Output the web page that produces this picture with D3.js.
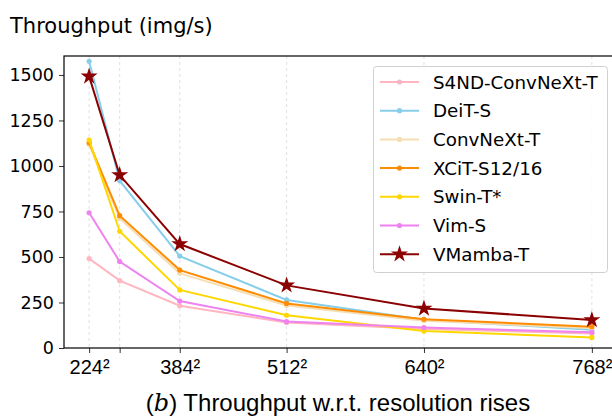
<!DOCTYPE html>
<html>
<head>
<meta charset="utf-8">
<script src="https://cdn.jsdelivr.net/npm/d3@7"></script>
<style>
body { margin: 0; background: #fff; }
svg { display: block; }
</style>
</head>
<body>
<svg width="612" height="418"></svg>
<script>
// resolutions (side length), x is placed by pixel count (res^2)
var resolutions = [224, 288, 384, 512, 640, 768];
var tickLabels = ["224²", "", "384²", "512²", "640²", "768²"];
var yTicks = [0, 250, 500, 750, 1000, 1250, 1500];

var models = ["S4ND-ConvNeXt-T", "DeiT-S", "ConvNeXt-T", "XCiT-S12/16", "Swin-T*", "Vim-S", "VMamba-T"];
var colors = ["#ffb6c1", "#87ceeb", "#f5deb3", "#ff8c00", "#ffd700", "#ee82ee", "#8b0000"];

var s4nd     = [491, 370, 232, 140, 104, 80];
var deit     = [1575, 919, 505, 264, 155, 100];
var convnext = [1118, 712, 410, 234, 150, 108];
var xcit     = [1128, 727, 428, 245, 158, 117];
var swin     = [1142, 641, 319, 180, 93, 58];
var vim      = [743, 475, 258, 145, 112, 86];
var vmamba   = [1492, 950, 571, 344, 217, 154];

var series = [s4nd, deit, convnext, xcit, swin, vim, vmamba];

var svg = d3.select("svg"),
	pLeft = 64, pTop = 56, pRight = 617, pBottom = 348;

var area = resolutions.map(d => d * d);
var pad = (d3.max(area) - d3.min(area)) * 0.05;

var xScale = d3.scaleLinear()
	.domain([d3.min(area) - pad, d3.max(area) + pad])
	.range([pLeft, pRight]);
var yScale = d3.scaleLinear().domain([0, 1604]).range([pBottom, pTop]);

// vertical dashed grid
svg.append("g").selectAll("line")
	.data(area)
	.enter().append("line")
	.attr("x1", d => xScale(d)).attr("x2", d => xScale(d))
	.attr("y1", pTop).attr("y2", pBottom)
	.attr("stroke", "#d9d9d9")
	.attr("stroke-width", 0.8)
	.attr("stroke-dasharray", "3,3");

var line = d3.line()
	.x((d, i) => xScale(area[i]))
	.y(d => yScale(d));

series.forEach(function(vals, k) {
	svg.append("path")
		.datum(vals)
		.attr("fill", "none")
		.attr("stroke", colors[k])
		.attr("stroke-width", 2)
		.attr("d", line);
	if (k == 6) {
		svg.append("g").selectAll("path")
			.data(vals)
			.enter().append("path")
			.attr("d", d3.symbol().type(d3.symbolStar).size(90))
			.attr("transform", (d, i) => "translate(" + xScale(area[i]) + "," + yScale(d) + ")")
			.attr("fill", colors[k]);
	} else {
		svg.append("g").selectAll("circle")
			.data(vals)
			.enter().append("circle")
			.attr("cx", (d, i) => xScale(area[i]))
			.attr("cy", d => yScale(d))
			.attr("r", 2.6)
			.attr("fill", colors[k]);
	}
});

// axes
var xAxis = svg.append("g")
	.attr("transform", "translate(0," + pBottom + ")")
	.call(d3.axisBottom(xScale).tickValues(area).tickFormat((d, i) => tickLabels[i]).tickSize(5).tickSizeOuter(0));
xAxis.selectAll("text")
	.attr("font-family", "'Liberation Sans Narrow', 'Liberation Sans', sans-serif")
	.attr("font-size", 20)
	.attr("fill", "#000")
	.attr("dy", "0.9em");

var yAxis = svg.append("g")
	.attr("transform", "translate(" + pLeft + ",0)")
	.call(d3.axisLeft(yScale).tickValues(yTicks).tickFormat(d3.format("d")).tickSize(5).tickPadding(5).tickSizeOuter(0));
yAxis.selectAll("text")
	.attr("font-family", "'DejaVu Sans', sans-serif")
	.attr("font-size", 17.5)
	.attr("fill", "#000");

svg.selectAll(".domain").remove();
svg.selectAll(".tick line").attr("stroke", "#000").attr("stroke-width", 0.8);

// frame
svg.append("rect")
	.attr("x", pLeft).attr("y", pTop)
	.attr("width", pRight - pLeft).attr("height", pBottom - pTop)
	.attr("fill", "none")
	.attr("stroke", "#000")
	.attr("stroke-width", 1.2);

// title
svg.append("text")
	.attr("x", 10).attr("y", 33)
	.attr("font-family", "'DejaVu Sans', sans-serif")
	.attr("font-size", 21)
	.text("Throughput (img/s)");

// legend
var lg = svg.append("g");
lg.append("rect")
	.attr("x", 373.5).attr("y", 66.5)
	.attr("width", 234).attr("height", 206)
	.attr("rx", 3)
	.attr("fill", "#fff").attr("fill-opacity", 0.85)
	.attr("stroke", "#d0d0d0");
models.forEach(function(m, k) {
	var y = 82 + k * 28.7;
	lg.append("line")
		.attr("x1", 380).attr("x2", 419)
		.attr("y1", y).attr("y2", y)
		.attr("stroke", colors[k]).attr("stroke-width", 2);
	if (k == 6) {
		lg.append("path")
			.attr("d", d3.symbol().type(d3.symbolStar).size(90))
			.attr("transform", "translate(399.5," + y + ")")
			.attr("fill", colors[k]);
	} else {
		lg.append("circle")
			.attr("cx", 399.5).attr("cy", y).attr("r", 2.6)
			.attr("fill", colors[k]);
	}
	lg.append("text")
		.attr("x", 433).attr("y", y + 6.5)
		.attr("font-family", "'DejaVu Sans', sans-serif")
		.attr("font-size", 18.3)
		.text(m);
});

// caption
var cap = svg.append("text")
	.attr("x", 338).attr("y", 411)
	.attr("text-anchor", "middle")
	.attr("font-family", "'Liberation Sans Narrow', 'Liberation Sans', sans-serif")
	.attr("font-size", 24);
cap.append("tspan").text("(");
cap.append("tspan").attr("font-style", "italic").attr("font-family", "'DejaVu Serif', serif").text("b");
cap.append("tspan").text(") Throughput w.r.t. resolution rises");
</script>
</body>
</html>
